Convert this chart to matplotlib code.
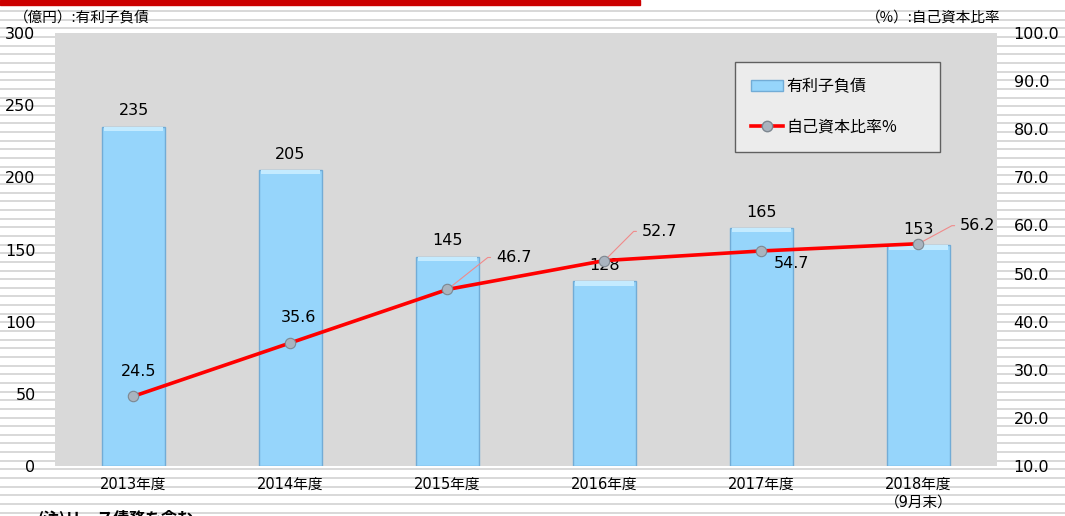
import numpy as np
import matplotlib
matplotlib.use('Agg')
import matplotlib.pyplot as plt
from matplotlib.lines import Line2D
from matplotlib.patches import Rectangle, Patch

# data
categories = ['2013年度', '2014年度', '2015年度', '2016年度', '2017年度', '2018年度\n（9月末）']
debt = [235, 205, 145, 128, 165, 153]           # 有利子負債 (億円)
equity_ratio = [24.5, 35.6, 46.7, 52.7, 54.7, 56.2]  # 自己資本比率 (%)

# label offsets for the line values (points), leader line flag
ratio_offsets = [(4, 18, False), (6, 18, False), (35, 23, True),
                 (27, 21, True), (9, -9, False), (30, 13, True)]

plt.rcParams['font.family'] = ['DejaVu Sans', 'Noto Sans CJK JP']
plt.rcParams['font.size'] = 11
cjk = ['Noto Sans CJK JP', 'DejaVu Sans']

fig = plt.figure(figsize=(10.65, 5.16), dpi=100)
W, H = 1065, 516

# ruled background + red bar at top
for y in np.arange(11, H, 8.65):
    fig.add_artist(Line2D([0, 1], [1 - y / H, 1 - y / H], color='#d8d8d8', lw=1.4, zorder=0))
fig.add_artist(Rectangle((0, 1 - 5 / H), 640 / W, 5 / H, color='#cc0000', zorder=1))

ax = fig.add_axes([55 / W, 1 - 466 / H, (997 - 55) / W, (466 - 33) / H])
ax.set_facecolor('#d9d9d9')
for s in ax.spines.values():
    s.set_visible(False)

x = np.arange(len(categories))
bars = ax.bar(x, debt, width=0.4, color='#96d5fb', edgecolor='#72acd6', linewidth=1.0, zorder=2)
# light bevel at the top of each bar
for b in bars:
    ax.add_patch(Rectangle((b.get_x() + 0.01, b.get_height() - 3), b.get_width() - 0.02, 3,
                           facecolor='#c4ebff', edgecolor='none', zorder=2.5))
ax.set_ylim(0, 300)
ax.set_xlim(-0.5, len(categories) - 0.5)
ax.set_yticks(np.arange(0, 301, 50))
ax.tick_params(axis='y', length=0, pad=14, labelsize=11.5)
ax.tick_params(axis='x', length=0, pad=8, labelsize=10.5)
ax.set_xticks(x)
ax.set_xticklabels(categories, linespacing=1.2)
for xi, v in zip(x, debt):
    ax.annotate(str(v), (xi, v), xytext=(0, 6), textcoords='offset points',
                ha='center', va='bottom', fontsize=11.5, zorder=5)

ax2 = ax.twinx()
for s in ax2.spines.values():
    s.set_visible(False)
ax2.set_ylim(10, 100)
ax2.set_yticks(np.arange(10, 101, 10))
ax2.set_yticklabels([f'{v:.1f}' for v in np.arange(10, 101, 10)])
ax2.tick_params(axis='y', length=0, pad=12, labelsize=11.5)
ax2.plot(x, equity_ratio, color='#ff0000', lw=2.6, zorder=3)
ax2.plot(x, equity_ratio, 'o', ms=7.5, markerfacecolor='#a9b4bf',
         markeredgecolor='#7d8790', markeredgewidth=0.8, zorder=4)
for xi, v, (dx, dy, lead) in zip(x, equity_ratio, ratio_offsets):
    if lead:
        ang = np.degrees(np.arctan2(dy, dx - 6))
        ax2.annotate(f'{v:.1f}', (xi, v), xytext=(dx, dy), textcoords='offset points',
                     ha='left', va='center', fontsize=11.5,
                     arrowprops=dict(arrowstyle='-', color='#f08a8a', lw=0.8,
                                     shrinkA=2, shrinkB=0,
                                     connectionstyle=f'angle,angleA=0,angleB={ang:.1f},rad=0'))
    else:
        ax2.annotate(f'{v:.1f}', (xi, v), xytext=(dx, dy), textcoords='offset points',
                     ha='center' if dy > 0 else 'left', va='center', fontsize=11.5)

# legend
handles = [Patch(facecolor='#96d5fb', edgecolor='#72acd6'),
           Line2D([], [], color='#ff0000', lw=2.6, marker='o', ms=7.5,
                  markerfacecolor='#a9b4bf', markeredgecolor='#7d8790')]
leg = fig.legend(handles, ['有利子負債', '自己資本比率%'], loc='upper left',
                 bbox_to_anchor=(735 / W, 1 - 145 / H, 205 / W, 83 / H), mode='expand',
                 frameon=True, fancybox=False, prop={'family': cjk, 'size': 11.5},
                 labelspacing=1.5, borderpad=1.0, handlelength=2.0,
                 handletextpad=0.2, borderaxespad=0)
leg.get_frame().set_facecolor('#f2f2f2')
leg.get_frame().set_edgecolor('#404040')
leg.get_frame().set_linewidth(1.0)
leg.set_zorder(10)

# header labels
fig.text(14 / W, 1 - 18 / H, '（億円）:有利子負債', ha='left', va='center',
         fontsize=10.5, family=cjk)
fig.text(1000 / W, 1 - 18 / H, '（%）:自己資本比率', ha='right', va='center',
         fontsize=10.5, family=cjk)
fig.text(38 / W, 1 - 518 / H, '(注)リース債務を含む', ha='left', va='center',
         fontsize=11.5, fontweight='bold', family=cjk)

fig.savefig('out.png', dpi=100)
